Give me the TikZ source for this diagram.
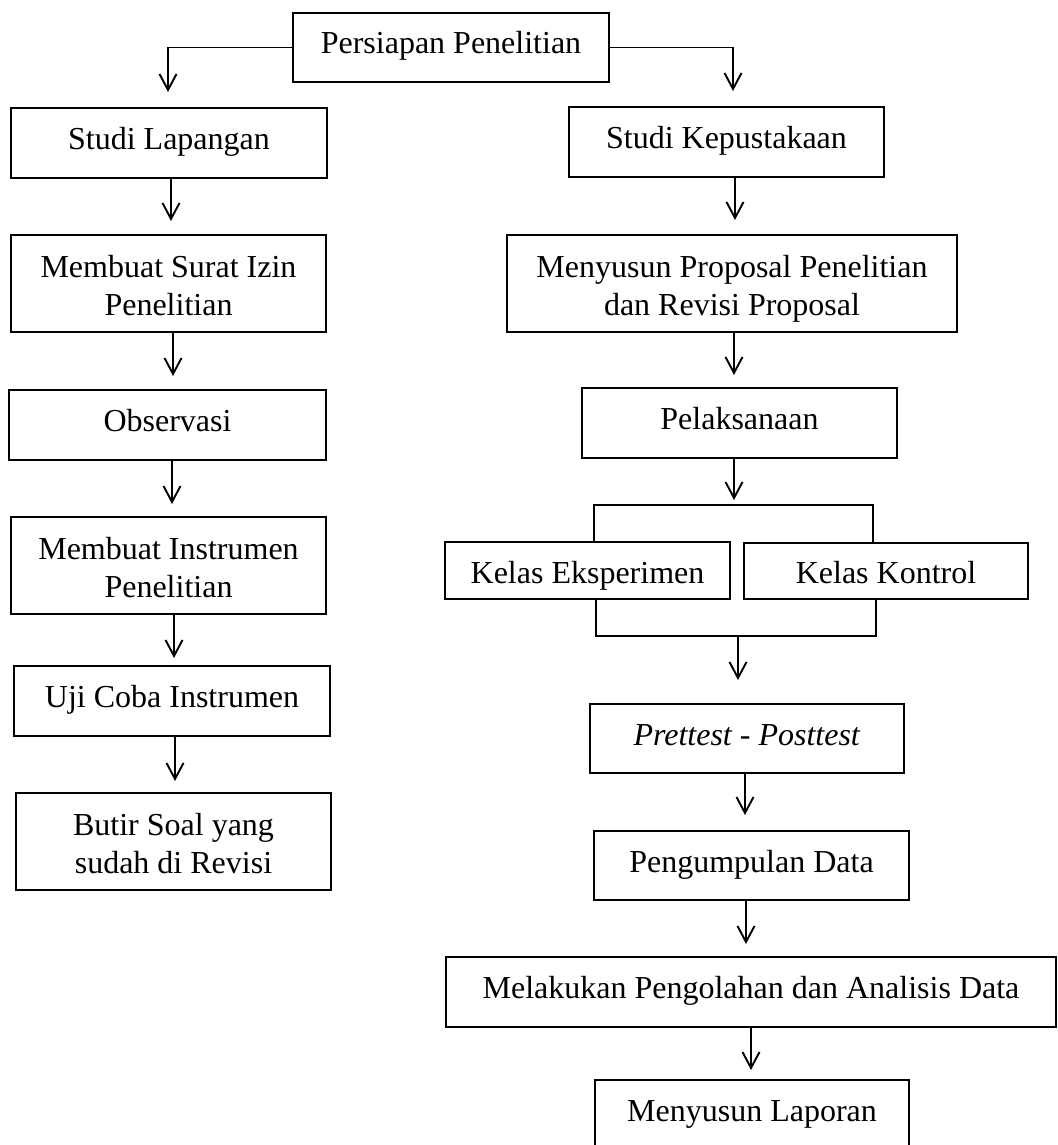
\documentclass[tikz,border=0pt]{standalone}
\usepackage{fontspec}
\setmainfont{Liberation Serif}
\usetikzlibrary{arrows.meta,calc}
\newcommand\twolines[2]{\rule{0pt}{16.5pt}#1\\#2\rule[-4pt]{0pt}{4pt}}
\begin{document}
\begin{tikzpicture}[x=0.5pt,y=-0.5pt,
  box/.style={draw, line width=1.2pt, rectangle, inner sep=0pt, outer sep=0pt, align=center, font=\fontsize{16}{19}\selectfont},
  sz/.style 2 args={minimum width=#1*0.5pt, minimum height=#2*0.5pt},
  oneA/.style={text height=10.5pt, text depth=4pt},
  oneB/.style={text height=16.8pt, text depth=4pt},
  arr/.style={line width=0.95pt, -{Straight Barb[length=8pt,width=8.5pt]}},
  thinl/.style={line width=0.65pt}]
\useasboundingbox (0,0) rectangle (1058,1145);
% nodes
\node[box, oneA, sz={316}{69}] (P) at (451,47.5) {Persiapan Penelitian};
\node[box, oneA, sz={316}{70}] (SL) at (169,143) {Studi Lapangan};
\node[box, oneA, sz={315}{70}] (SK) at (726.5,142) {Studi Kepustakaan};
\node[box, sz={315}{97}] (MS) at (168.5,283.5) {\twolines{Membuat Surat Izin}{Penelitian}};
\node[box, sz={450}{97}] (MP) at (732,283.5) {\twolines{Menyusun Proposal Penelitian}{dan Revisi Proposal}};
\node[box, oneA, sz={317}{70}] (OB) at (167.5,425) {Observasi};
\node[box, oneA, sz={315}{70}] (PL) at (739.5,423) {Pelaksanaan};
\node[box, sz={315}{97}] (MI) at (168.5,565.5) {\twolines{Membuat Instrumen}{Penelitian}};
\node[box, oneA, sz={316}{70}] (UC) at (172,701) {Uji Coba Instrumen};
\node[box, sz={315}{97}] (BS) at (173.5,841.5) {\twolines{Butir Soal yang}{sudah di Revisi}};
\node[box, oneB, sz={285}{57}] (KE) at (587.5,570.5) {Kelas Eksperimen};
\node[box, oneB, sz={284}{56}] (KK) at (886,571) {Kelas Kontrol};
\node[box, oneA, sz={314}{69}] (PP) at (747,738.5) {\textit{Prettest - Posttest}};
\node[box, oneA, sz={315}{69}] (PD) at (751.5,865.5) {Pengumpulan Data};
\node[box, oneA, sz={610}{70}] (MA) at (751,992) {Melakukan Pengolahan dan Analisis Data};
\node[box, oneA, sz={314}{70}] (ML) at (752,1115) {Menyusun Laporan};
% top split
\coordinate (cl) at (168,47.5);
\coordinate (cr) at (733,47.5);
\draw[thinl] (P.west) -- (cl);
\draw[thinl] (P.east) -- (cr);
\draw[arr, shorten >=8pt] (cl) -- (SL.north -| cl);
\draw[arr, shorten >=8pt] (cr) -- (SK.north -| cr);
% left column
\draw[arr, shorten >=7pt] (SL.south -| 171,0) -- (MS.north -| 171,0);
\draw[arr, shorten >=7pt] (MS.south -| 173,0) -- (OB.north -| 173,0);
\draw[arr, shorten >=6.5pt] (OB.south -| 172,0) -- (MI.north -| 172,0);
\draw[arr, shorten >=4pt] (MI.south -| 174,0) -- (UC.north -| 174,0);
\draw[arr, shorten >=6pt] (UC.south -| 175,0) -- (BS.north -| 175,0);
% right column
\draw[arr, shorten >=7.5pt] (SK.south -| 735,0) -- (MP.north -| 735,0);
\draw[arr, shorten >=6.5pt] (MP.south -| 734,0) -- (PL.north -| 734,0);
\coordinate (bt) at (734,505);
\draw[arr, shorten >=2.5pt] (PL.south -| bt) -- (bt);
\draw[thinl] (KE.north -| 594,0) -- (594,505) -- (873,505) -- (KK.north -| 873,0);
\draw[thinl] (KE.south -| 596,0) -- (596,636) -- (876,636) -- (KK.south -| 876,0);
\coordinate (bb) at (738,636);
\draw[arr, shorten >=12pt] (bb) -- (PP.north -| bb);
\draw[arr, shorten >=8pt] (PP.south -| 745,0) -- (PD.north -| 745,0);
\draw[arr, shorten >=6.5pt] (PD.south -| 746,0) -- (MA.north -| 746,0);
\draw[arr, shorten >=5pt] (MA.south -| 751,0) -- (ML.north -| 751,0);
\end{tikzpicture}
\end{document}
